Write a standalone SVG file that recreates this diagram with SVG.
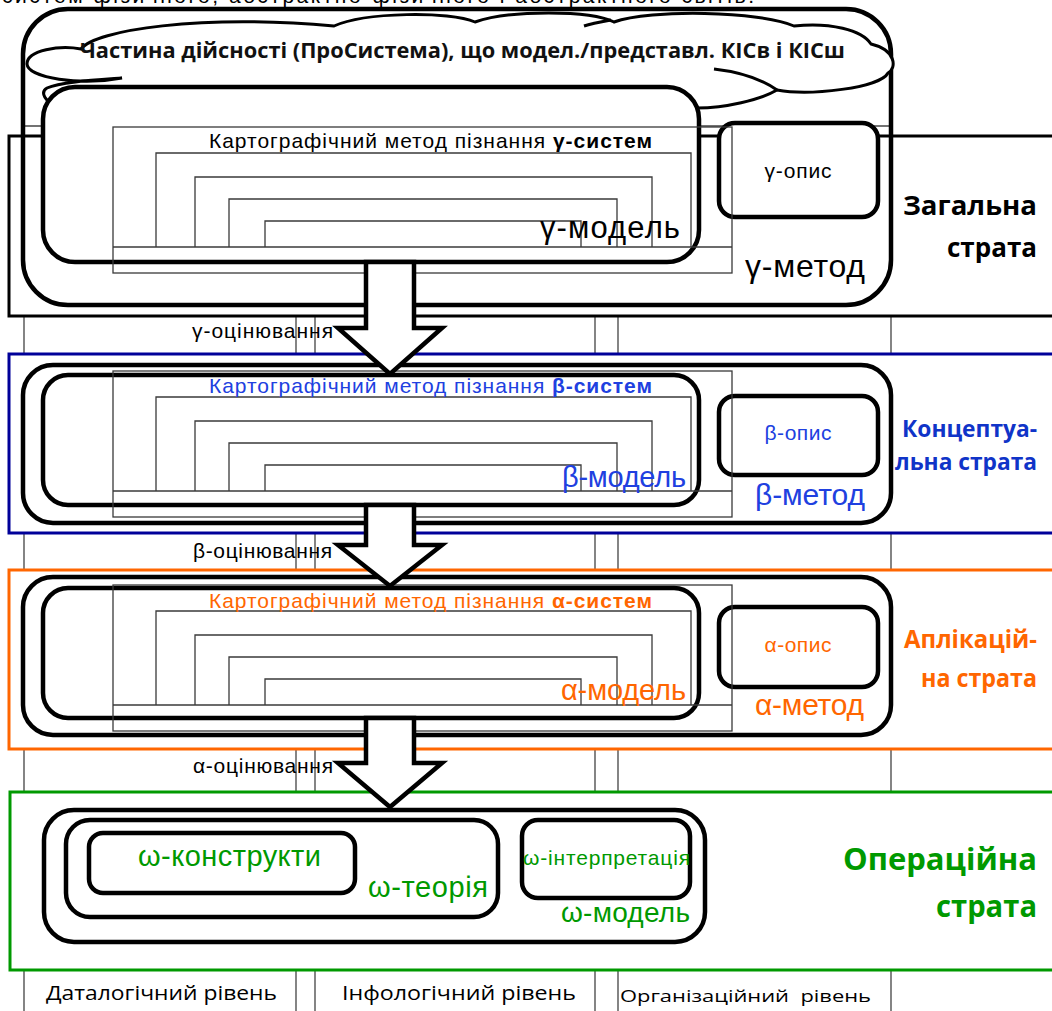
<svg xmlns="http://www.w3.org/2000/svg" xmlns:xlink="http://www.w3.org/1999/xlink" width="1052" height="1011" viewBox="0 0 1052 1011">
  <style>
    .grid { stroke:#444; stroke-width:1.3; fill:none }
    .frm { stroke:#3a3a3a; stroke-width:1.3; fill:none }
    .thick { stroke:#000; stroke-width:4.5; fill:none }
    .thickw { stroke:#000; stroke-width:4.5; fill:#fff }
    .arrow { fill:#fff; stroke:#000; stroke-width:4.5; stroke-linejoin:miter }
    .sans { font-family:"Liberation Sans", Arial, sans-serif }
    .cal { font-family:"Open Sans", "Noto Sans", sans-serif }
    .b { font-weight:bold }
    .blue { fill:#2040E0 }
    .orange { fill:#FF6600 }
    .green { fill:#009900 }
  </style>
  <defs>
    <!-- nested cartographic frames, drawn relative to the outer frame top -->
    <g id="cartFrame" class="frm">
      <rect x="113" y="0" width="619" height="146"/>
      <path d="M113,120 H732"/>
      <path d="M156,120 V26 H691 V120"/>
      <path d="M195,120 V50 H652 V120"/>
      <path d="M229,120 V72 H617 V120"/>
      <path d="M265,120 V94 H581 V120"/>
    </g>
  </defs>

  <rect width="1052" height="1011" fill="#fff"/>

  <!-- caption line, mostly above the visible area -->
  <text class="sans" x="2" y="3" font-size="21" textLength="752" fill="#000">систем фізичного, абстрактно-фізичного і абстрактного світів.</text>

  <!-- level table grid -->
  <g id="grid" class="grid">
    <path d="M24,126 V1011 M296,126 V1011 M315,126 V1011 M595,126 V1011 M618,126 V1011 M891,126 V1011"/>
  </g>

  <!-- strata bands -->
  <g id="stratum-gamma"><rect x="9" y="136" width="1060" height="180" fill="#fff" stroke="#000" stroke-width="3"/></g>
  <g id="stratum-beta"><rect x="9" y="354" width="1060" height="179" fill="#fff" stroke="#000099" stroke-width="3"/></g>
  <g id="stratum-alpha"><rect x="9" y="570" width="1060" height="179" fill="#fff" stroke="#FF6600" stroke-width="3"/></g>
  <g id="stratum-omega"><rect x="10" y="792" width="1060" height="178" fill="#fff" stroke="#009900" stroke-width="3"/></g>

  <path class="grid" d="M24,126 H891"/>

  <!-- gamma method -->
  <g id="gamma-method">
    <rect class="thick" x="23" y="9" width="868" height="296" rx="45"/>
    <g id="prosystem-cloud">
      <path d="M122,78 C80,86 28,78 27,64 C27,50 60,45 81,49 C95,30 200,14 334,26 C365,12 450,11 475,22 C510,10 590,10 614,22 C650,9 760,11 794,26 C830,22 862,30 871,44 C896,50 897,68 888,73 C880,88 810,96 777,90 C760,100 725,108 697,108 L60,108 C44,102 40,92 47,88 C60,82 95,80 122,78 Z" fill="#fff" stroke="#000" stroke-width="3"/>
      <path d="M777,90 C760,78 740,72 714,69 M611,20 C600,22 590,24 584,26" fill="none" stroke="#000" stroke-width="3"/>
      <text class="cal b" x="80" y="58" font-size="21" textLength="765" lengthAdjust="spacingAndGlyphs" fill="#111">Частина дійсності (ПроСистема), що модел./представл. КІСв і КІСш</text>
    </g>
    <rect class="thickw" x="43" y="87" width="656" height="175" rx="32"/>
    <rect class="thickw" x="719" y="123" width="159" height="94" rx="16"/>
    <use xlink:href="#cartFrame" transform="translate(0,127)"/>
    <text class="sans" x="209" y="148" font-size="21" textLength="443" fill="#000">Картографічний метод пізнання <tspan class="b">γ-систем</tspan></text>
    <text class="sans" x="540" y="238" font-size="31" textLength="140" fill="#000">γ-модель</text>
    <text class="sans" x="798" y="178" font-size="21" text-anchor="middle" textLength="67" fill="#000">γ-опис</text>
    <text class="sans" x="745" y="277" font-size="32" textLength="120" fill="#000">γ-метод</text>
  </g>

  <!-- beta method -->
  <g id="beta-method">
    <rect class="thick" x="23" y="365" width="868" height="158" rx="30"/>
    <rect class="thickw" x="43" y="375" width="656" height="130" rx="25"/>
    <rect class="thickw" x="719" y="396" width="159" height="79" rx="16"/>
    <use xlink:href="#cartFrame" transform="translate(0,371)"/>
    <text class="sans blue" x="209" y="393" font-size="21" textLength="443">Картографічний метод пізнання <tspan class="b">β-систем</tspan></text>
    <text class="sans blue" x="562" y="487" font-size="29" textLength="124">β-модель</text>
    <text class="sans blue" x="798" y="440" font-size="21" text-anchor="middle" textLength="67">β-опис</text>
    <text class="sans blue" x="755" y="505" font-size="30" textLength="110">β-метод</text>
  </g>

  <!-- alpha method -->
  <g id="alpha-method">
    <rect class="thick" x="23" y="577" width="868" height="158" rx="30"/>
    <rect class="thickw" x="43" y="588" width="656" height="130" rx="25"/>
    <rect class="thickw" x="719" y="607" width="159" height="80" rx="16"/>
    <use xlink:href="#cartFrame" transform="translate(0,585)"/>
    <text class="sans orange" x="209" y="608" font-size="21" textLength="443">Картографічний метод пізнання <tspan class="b">α-систем</tspan></text>
    <text class="sans orange" x="561" y="700" font-size="29" textLength="125">α-модель</text>
    <text class="sans orange" x="798" y="652" font-size="21" text-anchor="middle" textLength="67">α-опис</text>
    <text class="sans orange" x="755" y="715" font-size="30" textLength="109">α-метод</text>
  </g>

  <!-- omega model -->
  <g id="omega-model">
    <rect class="thickw" x="44" y="810" width="661" height="132" rx="30"/>
    <rect class="thickw" x="66" y="820" width="432" height="97" rx="24"/>
    <rect class="thickw" x="89" y="833" width="266" height="60" rx="14"/>
    <rect class="thickw" x="522" y="820" width="168" height="78" rx="16"/>
    <text class="sans green" x="138" y="866" font-size="29" textLength="183">ω-конструкти</text>
    <text class="sans green" x="368" y="897" font-size="29" textLength="120">ω-теорія</text>
    <text class="sans green" x="523" y="865" font-size="21" textLength="167">ω-інтерпретація</text>
    <text class="sans green" x="561" y="922" font-size="28" textLength="129">ω-модель</text>
  </g>

  <!-- evaluation arrows between strata -->
  <g id="connectors">
    <polygon class="arrow" points="366,262 414,262 414,328 442,328 390,374 338,328 366,328"/>
    <polygon class="arrow" points="366,505 414,505 414,545 442,545 390,586 338,545 366,545"/>
    <polygon class="arrow" points="366,718 414,718 414,763 442,763 390,807 338,763 366,763"/>
    <text class="sans" x="192" y="338" font-size="21" textLength="141" fill="#000">γ-оцінювання</text>
    <text class="sans" x="193" y="558" font-size="21" textLength="139" fill="#000">β-оцінювання</text>
    <text class="sans" x="193" y="773" font-size="21" textLength="140" fill="#000">α-оцінювання</text>
  </g>

  <!-- strata titles -->
  <g id="stratum-titles" class="cal b" text-anchor="end">
    <text x="1037" y="215" font-size="26" textLength="134" lengthAdjust="spacingAndGlyphs" fill="#000">Загальна</text>
    <text x="1037" y="257" font-size="26" textLength="90" lengthAdjust="spacingAndGlyphs" fill="#000">страта</text>
    <text x="1037" y="437" font-size="24" textLength="135" lengthAdjust="spacingAndGlyphs" fill="#1034C8">Концептуа-</text>
    <text x="1037" y="470" font-size="24" textLength="142" lengthAdjust="spacingAndGlyphs" fill="#1034C8">льна страта</text>
    <text x="1037" y="648" font-size="25" textLength="133" lengthAdjust="spacingAndGlyphs" fill="#FF6600">Аплікацій-</text>
    <text x="1037" y="687" font-size="25" textLength="116" lengthAdjust="spacingAndGlyphs" fill="#FF6600">на страта</text>
    <text x="1037" y="870" font-size="30" textLength="194" lengthAdjust="spacingAndGlyphs" fill="#009900">Операційна</text>
    <text x="1037" y="917" font-size="30" textLength="101" lengthAdjust="spacingAndGlyphs" fill="#009900">страта</text>
  </g>

  <!-- level captions -->
  <g id="level-captions" class="cal" fill="#000">
    <text x="46" y="1000" font-size="20" textLength="231" lengthAdjust="spacingAndGlyphs">Даталогічний рівень</text>
    <text x="342" y="1000" font-size="20" textLength="234" lengthAdjust="spacingAndGlyphs">Інфологічний рівень</text>
    <text x="620" y="1002" font-size="17" textLength="251" lengthAdjust="spacingAndGlyphs" xml:space="preserve">Організаційний  рівень</text>
  </g>
</svg>
